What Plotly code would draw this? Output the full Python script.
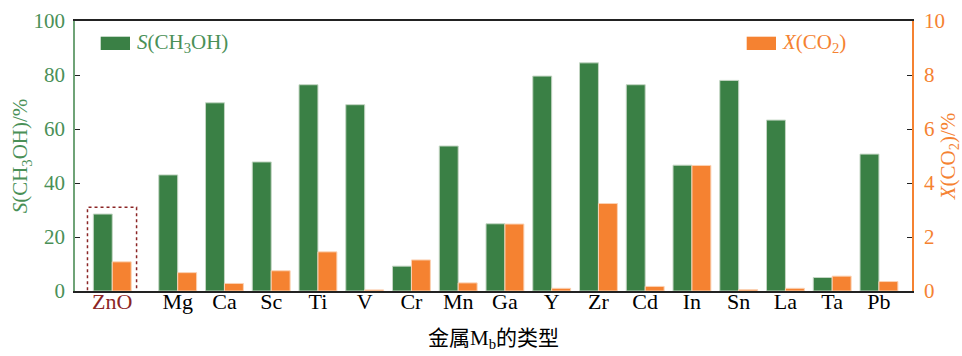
import plotly.graph_objects as go

# ---- data ----
metals = ["ZnO", "Mg", "Ca", "Sc", "Ti", "V", "Cr", "Mn", "Ga", "Y", "Zr", "Cd", "In", "Sn", "La", "Ta", "Pb"]
s_ch3oh = [28.5, 43.0, 69.7, 47.8, 76.4, 69.0, 9.2, 53.7, 24.9, 79.6, 84.5, 76.4, 46.6, 78.0, 63.3, 5.0, 50.7]
x_co2 = [1.08, 0.68, 0.28, 0.75, 1.45, 0.04, 1.15, 0.30, 2.48, 0.10, 3.24, 0.17, 4.65, 0.05, 0.10, 0.55, 0.35]
left_ticks = [0, 20, 40, 60, 80, 100]
right_ticks = [0, 2, 4, 6, 8, 10]

# ---- styling ----
GREEN = "#3a8045"
GREEN_TXT = "#4a9057"
ORANGE = "#f58231"
DARKRED = "#8b2525"
FONT = "Liberation Serif, Times New Roman, Noto Sans CJK SC, serif"
FS = 21

# reference group (ZnO) is set apart from the others by a wider gap
xpos = [0.0] + [i + 0.4 for i in range(1, len(metals))]
bw = 0.405

ticktext = [f"<span style='color:{DARKRED}'>{m}</span>" if m == "ZnO" else m for m in metals]

fig = go.Figure()
fig.add_trace(go.Bar(
    x=xpos, y=s_ch3oh, width=bw, offset=-bw, name="S(CH3OH)",
    marker=dict(color=GREEN, line=dict(color="#c4d6c4", width=1)),
    yaxis="y", showlegend=False))
fig.add_trace(go.Bar(
    x=xpos, y=x_co2, width=bw, offset=0, name="X(CO2)",
    marker=dict(color=ORANGE, line=dict(color="#fbd2b4", width=1)),
    yaxis="y2", showlegend=False))

fig.update_layout(
    width=962, height=356,
    margin=dict(l=75, r=50, t=21, b=65),
    paper_bgcolor="white", plot_bgcolor="white",
    barmode="overlay",
    font=dict(family=FONT, size=FS, color="black"),
    xaxis=dict(
        range=[-0.797, 17.107], tickmode="array", tickvals=xpos, ticktext=ticktext,
        showline=True, linecolor="#222222", linewidth=1.5, mirror=True,
        ticks="", showgrid=False, zeroline=False, automargin=False,
        tickfont=dict(family=FONT, size=22, color="black"),
        ticklabelstandoff=-10,
        title=dict(text="金属M<sub>b</sub>的类型", font=dict(family=FONT, size=FS, color="black"), standoff=17),
    ),
    yaxis=dict(
        range=[0, 100], tickmode="array", tickvals=left_ticks,
        showline=True, linecolor="#6fa377", linewidth=1.5,
        ticks="inside", ticklen=5, tickcolor="#222222", tickwidth=1.2,
        showgrid=False, zeroline=False, automargin=False,
        tickfont=dict(family=FONT, size=FS, color=GREEN_TXT),
        ticklabelstandoff=4,
        title=dict(text="<i>S</i>(CH<sub>3</sub>OH)/%", font=dict(family=FONT, size=FS, color=GREEN_TXT), standoff=0),
    ),
    yaxis2=dict(
        range=[0, 10], tickmode="array", tickvals=right_ticks,
        overlaying="y", side="right",
        showline=True, linecolor=ORANGE, linewidth=1.5,
        ticks="inside", ticklen=5, tickcolor="#222222", tickwidth=1.2,
        showgrid=False, zeroline=False, automargin=False,
        tickfont=dict(family=FONT, size=FS, color=ORANGE),
        ticklabelstandoff=6,
        title=dict(text="<i>X</i>(CO<sub>2</sub>)/%", font=dict(family=FONT, size=FS, color=ORANGE), standoff=14),
    ),
)

# dotted highlight box around the reference catalyst
fig.add_shape(type="rect", xref="x", yref="y", x0=-0.53, x1=0.52, y0=-0.8, y1=31,
              line=dict(color=DARKRED, width=1.5, dash="dot"), fillcolor="rgba(0,0,0,0)")

# legend drawn as swatches + labels
fig.add_shape(type="rect", xref="paper", yref="paper", x0=0.0307, x1=0.0657, y0=0.8926, y1=0.9419,
              fillcolor=GREEN, line=dict(width=0))
fig.add_annotation(xref="paper", yref="paper", x=0.0717, y=0.918, xanchor="left", yanchor="middle",
                   text="<i>S</i>(CH<sub>3</sub>OH)", showarrow=False,
                   font=dict(family=FONT, size=FS, color=GREEN_TXT))
fig.add_shape(type="rect", xref="paper", yref="paper", x0=0.8025, x1=0.8375, y0=0.8926, y1=0.9419,
              fillcolor=ORANGE, line=dict(width=0))
fig.add_annotation(xref="paper", yref="paper", x=0.8423, y=0.918, xanchor="left", yanchor="middle",
                   text="<i>X</i>(CO<sub>2</sub>)", showarrow=False,
                   font=dict(family=FONT, size=FS, color=ORANGE))

fig.write_html("out.html")
